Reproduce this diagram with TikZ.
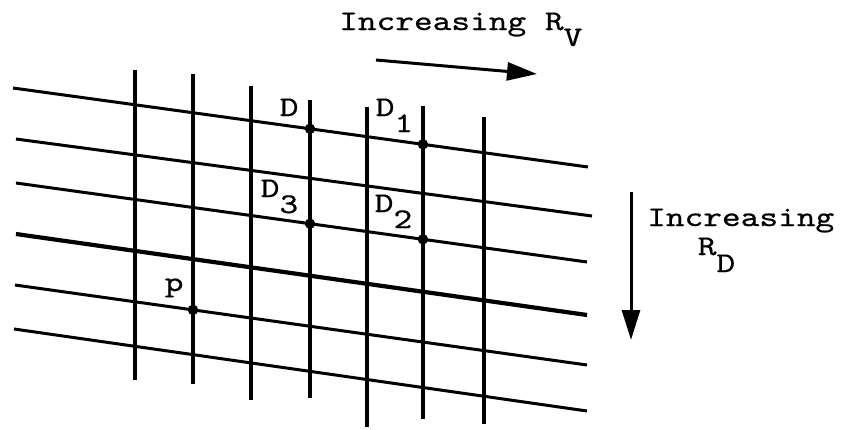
\documentclass[tikz,border=0pt]{standalone}
\usepackage{fontspec}
\newfontfamily\cour{lmmono10-regular.otf}[FakeStretch=1.25,FakeBold=0.6]
\usetikzlibrary{arrows.meta}
\begin{document}
\begin{tikzpicture}[x=1pt,y=-1pt,
  hline/.style={line width=3pt},
  heavyline/.style={line width=4.2pt},
  vline/.style={line width=3.4pt},
  dot/.style={circle,fill=black,inner sep=0pt,minimum size=10.5pt},
  lbl/.style={inner sep=0pt,anchor=base west,font=\cour\fontsize{28.5}{34}\selectfont},
  arr/.style={line width=3pt,-{Triangle[length=30pt,width=18pt]}}]
\useasboundingbox (0,0) rectangle (844,429);
% slanted lines
\coordinate (h1s) at (13,88);  \coordinate (h1e) at (588,167);
\coordinate (h2s) at (16,139); \coordinate (h2e) at (592,216);
\coordinate (h3s) at (16,183); \coordinate (h3e) at (587,262);
\coordinate (h4s) at (16,234); \coordinate (h4e) at (587,315);
\coordinate (h5s) at (15,285); \coordinate (h5e) at (587,365);
\coordinate (h6s) at (14,329); \coordinate (h6e) at (587,411);
% vertical lines
\coordinate (v1t) at (135,70);  \coordinate (v1b) at (135,380);
\coordinate (v2t) at (193,74);  \coordinate (v2b) at (193,384);
\coordinate (v3t) at (251,86);  \coordinate (v3b) at (251,400);
\coordinate (v4t) at (310,100); \coordinate (v4b) at (310,398);
\coordinate (v5t) at (367,107); \coordinate (v5b) at (367,427);
\coordinate (v6t) at (423,106); \coordinate (v6b) at (423,419);
\coordinate (v7t) at (484,117); \coordinate (v7b) at (484,424);

\draw[hline] (h1s) -- (h1e);
\draw[hline] (h2s) -- (h2e);
\draw[hline] (h3s) -- (h3e);
\draw[heavyline] (h4s) -- (h4e);
\draw[hline] (h5s) -- (h5e);
\draw[hline] (h6s) -- (h6e);
\foreach \v in {1,...,7} {\draw[vline] (v\v t) -- (v\v b);}

% points
\node[dot] (D)  at (intersection of h1s--h1e and v4t--v4b) {};
\node[dot] (D1) at (intersection of h1s--h1e and v6t--v6b) {};
\node[dot] (D3) at (intersection of h3s--h3e and v4t--v4b) {};
\node[dot] (D2) at (intersection of h3s--h3e and v6t--v6b) {};
\node[dot] (p)  at (intersection of h5s--h5e and v2t--v2b) {};

% labels
\node[lbl] (lD)  at (279.6,116) {D};
\node[lbl] (lD1) at (375.6,116) {D\raisebox{-16pt}{1}};
\node[lbl] (lD3) at (260.6,197) {D\raisebox{-16pt}{3}};
\node[lbl] (lD2) at (374.6,212) {D\raisebox{-16pt}{2}};
\node[lbl] (lp)  at (164.6,291) {p};
\node[lbl] (lRV) at (339,30) {Increasing R\raisebox{-16pt}{V}};
\node[lbl] (lRD1) at (647,226) {Increasing};
\node[lbl] (lRD2) at (697.6,255) {R\raisebox{-17pt}{D}};

% arrows
\coordinate (a1s) at (376,60); \coordinate (a1e) at (537,74);
\draw[arr] (a1s) -- (a1e);
\coordinate (a2s) at (631,192); \coordinate (a2e) at (631,340);
\draw[arr] (a2s) -- (a2e);
\end{tikzpicture}
\end{document}
